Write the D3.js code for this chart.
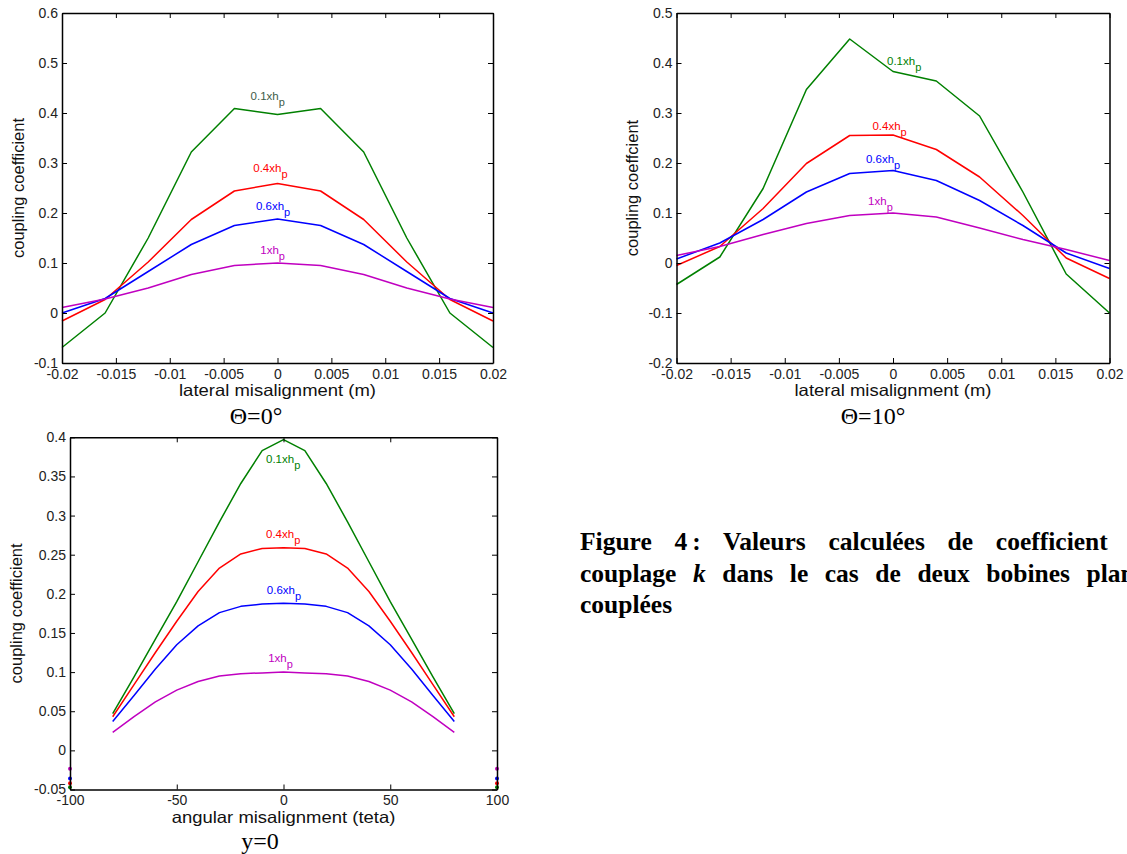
<!DOCTYPE html>
<html>
<head>
<meta charset="utf-8">
<script src="https://cdn.jsdelivr.net/npm/d3@7"></script>
<style>
	html, body { margin: 0; padding: 0; background: #fff; overflow: hidden; }
	body { width: 1127px; height: 854px; position: relative; }
	svg { position: absolute; left: 0; top: 0; }
	.tick text { font-family: Arial, "Liberation Sans", sans-serif; font-size: 14px; fill: #222; }
	.ann { font-family: Arial, "Liberation Sans", sans-serif; font-size: 11.5px; }
	.lbl { font-family: Arial, "Liberation Sans", sans-serif; font-size: 16.5px; fill: #111; }
	.sub { font-family: "Liberation Serif", "Times New Roman", serif; font-size: 24px; fill: #000; }
	#caption { position: absolute; left: 580px; top: 526px; width: 576px;
		font-family: "Liberation Serif", "Times New Roman", serif; font-weight: bold;
		font-size: 25.5px; line-height: 31.5px; color: #000; }
	#caption .jl { text-align: justify; text-align-last: justify; white-space: nowrap; }
	#caption .nb { display: inline-block; }
	#caption .colon { margin-left: 5px; }
</style>
</head>
<body>
<svg id="fig" width="1127" height="854"></svg>
<div id="caption">
	<div class="jl">Figure <span class="nb">4<span class="colon">:</span></span> Valeurs calculées de coefficient de</div>
	<div class="jl">couplage <i>k</i> dans le cas de deux bobines planes</div>
	<div>couplées</div>
</div>
<script>
// series names / colours
var seriesNames = ["0.1xh", "0.4xh", "0.6xh", "1xh"];
var seriesColours = ["#008000", "#ff0000", "#0000ff", "#c000c0"];

// lateral misalignment (m)
var xLateral = [-0.02, -0.016, -0.012, -0.008, -0.004, 0, 0.004, 0.008, 0.012, 0.016, 0.02];

// Theta = 0 deg
var k0_01 = [-0.069, 0.0, 0.150, 0.322, 0.409, 0.397, 0.409, 0.322, 0.150, 0.0, -0.069];
var k0_04 = [-0.016, 0.027, 0.102, 0.187, 0.244, 0.259, 0.244, 0.187, 0.102, 0.027, -0.016];
var k0_06 = [0.0, 0.029, 0.083, 0.137, 0.175, 0.188, 0.175, 0.137, 0.083, 0.029, 0.0];
var k0_1 = [0.011, 0.028, 0.050, 0.077, 0.095, 0.100, 0.095, 0.077, 0.050, 0.028, 0.011];

// Theta = 10 deg
var k10_01 = [-0.043, 0.012, 0.149, 0.347, 0.448, 0.383, 0.364, 0.294, 0.142, -0.022, -0.100];
var k10_04 = [-0.005, 0.033, 0.109, 0.199, 0.255, 0.256, 0.227, 0.172, 0.095, 0.010, -0.031];
var k10_06 = [0.008, 0.040, 0.087, 0.142, 0.179, 0.185, 0.165, 0.125, 0.075, 0.020, -0.011];
var k10_1 = [0.015, 0.033, 0.057, 0.079, 0.095, 0.100, 0.092, 0.070, 0.047, 0.027, 0.005];

// angular misalignment (teta), y = 0
var xAngular = [-80, -70, -60, -50, -40, -30, -20, -10, 0, 10, 20, 30, 40, 50, 60, 70, 80];
var kA_01 = [0.047, 0.094, 0.142, 0.190, 0.241, 0.292, 0.341, 0.383, 0.397, 0.383, 0.341, 0.292, 0.241, 0.190, 0.142, 0.094, 0.047];
var kA_04 = [0.043, 0.084, 0.125, 0.165, 0.203, 0.233, 0.251, 0.258, 0.259, 0.258, 0.251, 0.233, 0.203, 0.165, 0.125, 0.084, 0.043];
var kA_06 = [0.037, 0.070, 0.104, 0.135, 0.159, 0.176, 0.184, 0.187, 0.188, 0.187, 0.184, 0.176, 0.159, 0.135, 0.104, 0.070, 0.037];
var kA_1 = [0.023, 0.043, 0.062, 0.077, 0.088, 0.095, 0.098, 0.099, 0.100, 0.099, 0.098, 0.095, 0.088, 0.077, 0.062, 0.043, 0.023];
// stray points drawn at the +/-100 edges
var xAngularEdge = [-100, 100];
var kA_edge = [-0.047, -0.042, -0.036, -0.0235];

// ticks
var xTicksLat = [-0.02, -0.015, -0.01, -0.005, 0, 0.005, 0.01, 0.015, 0.02];
var xTickLabelsLat = ["-0.02", "-0.015", "-0.01", "-0.005", "0", "0.005", "0.01", "0.015", "0.02"];
var yTicks0 = [-0.1, 0, 0.1, 0.2, 0.3, 0.4, 0.5, 0.6];
var yTickLabels0 = ["-0.1", "0", "0.1", "0.2", "0.3", "0.4", "0.5", "0.6"];
var yTicks10 = [-0.2, -0.1, 0, 0.1, 0.2, 0.3, 0.4, 0.5];
var yTickLabels10 = ["-0.2", "-0.1", "0", "0.1", "0.2", "0.3", "0.4", "0.5"];
var xTicksAng = [-100, -50, 0, 50, 100];
var xTickLabelsAng = ["-100", "-50", "0", "50", "100"];
var yTicksAng = [-0.05, 0, 0.05, 0.1, 0.15, 0.2, 0.25, 0.3, 0.35, 0.4];
var yTickLabelsAng = ["-0.05", "0", "0.05", "0.1", "0.15", "0.2", "0.25", "0.3", "0.35", "0.4"];

var svg = d3.select("#fig");

function drawPanel(p) {
	var x = d3.scaleLinear().domain(p.xDomain).range([p.left, p.right]);
	var y = d3.scaleLinear().domain(p.yDomain).range([p.bottom, p.top]);
	var g = svg.append("g");

	var line = d3.line()
		.x(function (d) { return x(d[0]); })
		.y(function (d) { return y(d[1]); });

	g.selectAll("path.series")
		.data(p.series)
		.enter()
	  .append("path")
		.attr("class", "series")
		.attr("fill", "none")
		.attr("stroke-width", 1.5)
		.attr("stroke-linejoin", "round")
		.attr("stroke", function (d, i) { return seriesColours[i]; })
		.attr("d", function (d) {
			return line(p.xs.map(function (v, j) { return [v, d[j]]; }));
		});

	if (p.edge) {
		p.edge.forEach(function (v, i) {
			g.selectAll(null)
				.data(xAngularEdge)
				.enter()
			  .append("circle")
				.attr("cx", function (d) { return x(d); })
				.attr("cy", y(v))
				.attr("r", 2)
				.attr("fill", seriesColours[i]);
		});
	}

	var fmt = function (labels, ticks) {
		return function (d) { return labels[ticks.indexOf(d)]; };
	};

	g.append("g")
		.attr("transform", "translate(0," + p.bottom + ")")
		.call(d3.axisBottom(x).tickValues(p.xTicks).tickFormat(fmt(p.xLabels, p.xTicks))
			.tickSizeInner(-5).tickSizeOuter(0).tickPadding(6));
	g.append("g")
		.attr("transform", "translate(0," + p.top + ")")
		.call(d3.axisTop(x).tickValues(p.xTicks).tickFormat("").tickSizeInner(-5).tickSizeOuter(0));
	g.append("g")
		.attr("transform", "translate(" + p.left + ",0)")
		.call(d3.axisLeft(y).tickValues(p.yTicks).tickFormat(fmt(p.yLabels, p.yTicks))
			.tickSizeInner(-5).tickSizeOuter(0).tickPadding(4));
	g.append("g")
		.attr("transform", "translate(" + p.right + ",0)")
		.call(d3.axisRight(y).tickValues(p.yTicks).tickFormat("").tickSizeInner(-5).tickSizeOuter(0));

	g.selectAll(".domain").attr("stroke", "#000").attr("stroke-width", 1.5);
	g.selectAll(".tick line").attr("stroke", "#000").attr("stroke-width", 1);
	g.selectAll(".tick text").attr("fill", "#222");

	// series annotations
	p.labels.forEach(function (l, i) {
		var t = g.append("text")
			.attr("class", "ann")
			.attr("x", x(l[0]))
			.attr("y", y(l[1]))
			.attr("fill", l[2] || seriesColours[i]);
		t.append("tspan").text(seriesNames[i]);
		t.append("tspan").attr("dy", 6).attr("font-size", "11px").text("p");
	});

	// x label, a little wider than the font as in the source figure
	var cx = (p.left + p.right) / 2;
	g.append("text")
		.attr("class", "lbl")
		.attr("transform", "translate(" + cx + "," + p.xLabelY + ") scale(1.12,1)")
		.attr("text-anchor", "middle")
		.text(p.xLabel);

	g.append("text")
		.attr("class", "lbl")
		.attr("transform", "translate(" + p.yLabelX + "," + (p.top + p.bottom) / 2 + ") rotate(-90)")
		.attr("text-anchor", "middle")
		.text(p.yLabel);

	g.append("text")
		.attr("class", "sub")
		.attr("x", p.subX)
		.attr("y", p.subY)
		.attr("text-anchor", "middle")
		.text(p.sub);
}

drawPanel({
	left: 62, right: 493, top: 13, bottom: 363,
	xDomain: [-0.02, 0.02], yDomain: [-0.1, 0.6],
	xs: xLateral, series: [k0_01, k0_04, k0_06, k0_1],
	xTicks: xTicksLat, xLabels: xTickLabelsLat, yTicks: yTicks0, yLabels: yTickLabels0,
	labels: [[-0.0025, 0.426, "#3d5c48"], [-0.00225, 0.282], [-0.002, 0.206], [-0.0016, 0.118]],
	xLabel: "lateral misalignment (m)", xLabelY: 396,
	yLabel: "coupling coefficient", yLabelX: 24,
	sub: "\u0398=0\u00b0", subX: 256, subY: 424
});

drawPanel({
	left: 676.5, right: 1109.5, top: 13, bottom: 363,
	xDomain: [-0.02, 0.02], yDomain: [-0.2, 0.5],
	xs: xLateral, series: [k10_01, k10_04, k10_06, k10_1],
	xTicks: xTicksLat, xLabels: xTickLabelsLat, yTicks: yTicks10, yLabels: yTickLabels10,
	labels: [[-0.00055, 0.397], [-0.0019, 0.267], [-0.0025, 0.2], [-0.0023, 0.117]],
	xLabel: "lateral misalignment (m)", xLabelY: 396,
	yLabel: "coupling coeffcient", yLabelX: 638,
	sub: "\u0398=10\u00b0", subX: 873, subY: 424
});

drawPanel({
	left: 70, right: 497, top: 437.3, bottom: 789.5,
	xDomain: [-100, 100], yDomain: [-0.05, 0.4],
	xs: xAngular, series: [kA_01, kA_04, kA_06, kA_1], edge: kA_edge,
	xTicks: xTicksAng, xLabels: xTickLabelsAng, yTicks: yTicksAng, yLabels: yTickLabelsAng,
	labels: [[-8.2, 0.367], [-8.2, 0.271], [-7.8, 0.2], [-7.2, 0.113]],
	xLabel: "angular misalignment (teta)", xLabelY: 822.5,
	yLabel: "coupling coefficient", yLabelX: 22,
	sub: "y=0", subX: 260, subY: 849
});
</script>
</body>
</html>
